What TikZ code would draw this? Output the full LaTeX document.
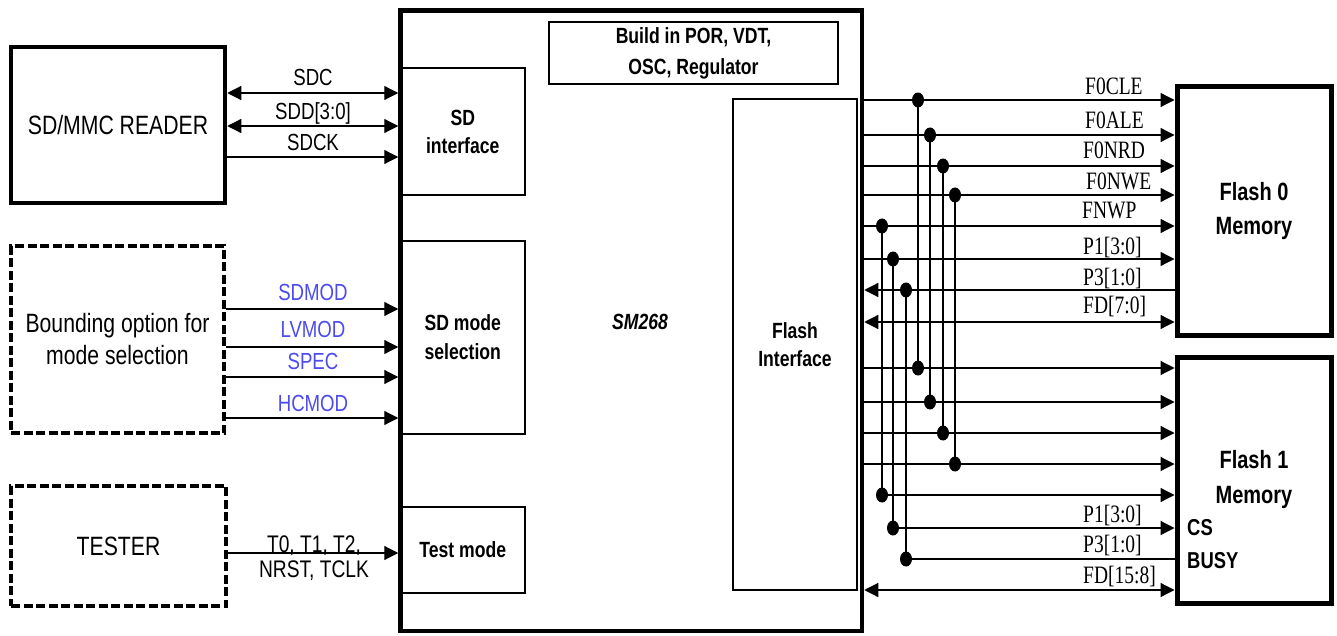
\documentclass[tikz,border=0pt]{standalone}
\usepackage{fontspec}
\setmainfont{Liberation Sans}[FakeStretch=0.8]
\newfontfamily\sigserif{Liberation Serif}[FakeStretch=0.78]
\usetikzlibrary{arrows.meta}
\definecolor{sigblue}{RGB}{75,75,240}
\begin{document}
\begin{tikzpicture}[x=1pt,y=-1pt,
  >={Triangle[length=14pt,width=14pt]},
  thinbox/.style={draw, line width=1.3pt, inner sep=0pt, align=center, font=\fontsize{22}{28}\selectfont\bfseries},
  thickbox/.style={draw, line width=4.5pt, inner sep=0pt, align=center, font=\fontsize{26.5}{32}\selectfont},
  dashbox/.style={draw, line width=4.5pt, dash pattern=on 9pt off 3.5pt, inner sep=0pt, align=center, font=\fontsize{26.5}{32}\selectfont},
  sig/.style={line width=1.2pt},
  lbl/.style={inner sep=0pt, anchor=base, font=\fontsize{23.3}{28}\selectfont},
  blbl/.style={lbl, text=sigblue},
  rlbl/.style={inner sep=0pt, anchor=base west, font=\fontsize{25}{30}\selectfont\sigserif},
  memlbl/.style={inner sep=0pt, anchor=base west, font=\fontsize{23}{28}\selectfont\bfseries},
  jdot/.style={x radius=6pt, y radius=7.5pt}
]
\fill[white] (0,0) rectangle (1337,636);
\useasboundingbox (0,0) rectangle (1337,636);

% ---------- left blocks ----------
\node[thickbox, minimum width=214pt, minimum height=156pt] (reader) at (118,125) {SD/MMC READER};
\node[dashbox, minimum width=213pt, minimum height=187pt, font=\fontsize{26.5}{32}\selectfont] (bound) at (117.5,339.5) {Bounding option for\\mode selection};
\node[dashbox, minimum width=215pt, minimum height=120pt] (tester) at (118.5,546) {TESTER};

% ---------- SM268 ----------
\node[draw, line width=4.5pt, minimum width=461.5pt, minimum height=620.5pt, inner sep=0pt] (sm) at (631.25,320.75) {};
\node[thinbox, minimum width=124.5pt, minimum height=127pt] (sdif) at (462.75,131.5) {SD\\interface};
\node[thinbox, minimum width=124.5pt, minimum height=193pt, font=\fontsize{22}{29}\selectfont\bfseries] (sdmode) at (462.75,337.5) {SD mode\\selection};
\node[thinbox, minimum width=124.5pt, minimum height=86pt] (testmode) at (462.75,550) {Test mode};
\node[thinbox, minimum width=289pt, minimum height=62pt, font=\fontsize{22}{31}\selectfont\bfseries] (build) at (693.5,53) {Build in POR, VDT,\\OSC, Regulator};
\node[thinbox, minimum width=124pt, minimum height=491pt] (flashif) at (795,344.5) {Flash\\Interface};
\node[inner sep=0pt, font=\fontsize{22}{26}\selectfont\bfseries\itshape] (smname) at (640,322) {SM268};

% ---------- flash memories ----------
\node[draw, line width=5pt, minimum width=154pt, minimum height=248pt, inner sep=0pt, align=center, font=\fontsize{25}{34}\selectfont\bfseries] (flash0) at (1254,211) {Flash 0\\Memory};
\node[draw, line width=5pt, minimum width=154pt, minimum height=246pt, inner sep=0pt, align=center, font=\fontsize{25}{35}\selectfont\bfseries] (flash1) at (1254,480) {Flash 1\\Memory};
\node[memlbl] (cs) at (1187,535) {CS};
\node[memlbl] (busy) at (1187,568) {BUSY};

% ---------- left signals ----------
\coordinate (ySDC) at (0,93);
\coordinate (ySDD) at (0,126);
\coordinate (ySDCK) at (0,157);
\coordinate (ySDMOD) at (0,309);
\coordinate (yLVMOD) at (0,347);
\coordinate (ySPEC) at (0,377);
\coordinate (yHCMOD) at (0,418);
\coordinate (yT) at (0,553);

\draw[sig,<->] (reader.east |- ySDC) -- (sm.west |- ySDC);
\draw[sig,<->] (reader.east |- ySDD) -- (sm.west |- ySDD);
\draw[sig,->] (reader.east |- ySDCK) -- (sm.west |- ySDCK);
\foreach \c in {ySDMOD,yLVMOD,ySPEC,yHCMOD}
  \draw[sig,->] (bound.east |- \c) -- (sm.west |- \c);
\draw[sig,->] (tester.east |- yT) -- (sm.west |- yT);

\node[lbl] (lsdc) at (313,85.3) {SDC};
\node[lbl] (lsdd) at (313,119.3) {SDD[3:0]};
\node[lbl] (lsdck) at (313,150.3) {SDCK};
\node[blbl] (lsdmod) at (313,300.5) {SDMOD};
\node[blbl] (llvmod) at (313,337.5) {LVMOD};
\node[blbl] (lspec) at (313,369.5) {SPEC};
\node[blbl] (lhcmod) at (313,411.5) {HCMOD};
\node[lbl, font=\fontsize{24}{28}\selectfont] (lt0) at (314,552.6) {T0, T1, T2,};
\node[lbl, font=\fontsize{24}{28}\selectfont] (lnrst) at (314,577.6) {NRST, TCLK};

% ---------- right signals ----------
\coordinate (a1) at (918,100); \coordinate (a2) at (918,368);
\coordinate (b1) at (930,135); \coordinate (b2) at (930,402);
\coordinate (c1) at (943,166); \coordinate (c2) at (943,433);
\coordinate (d1) at (955,195); \coordinate (d2) at (955,464);
\coordinate (e1) at (882,226); \coordinate (e2) at (882,495);
\coordinate (f1) at (893,259); \coordinate (f2) at (893,528);
\coordinate (g1) at (906,290); \coordinate (g2) at (906,559);
\coordinate (h1) at (0,322);   \coordinate (h2) at (0,590);

\foreach \j in {a,b,c,d} {
  \draw[sig,->] (sm.east |- \j1) -- (flash0.west |- \j1);
  \draw[sig,->] (sm.east |- \j2) -- (flash1.west |- \j2);
}
\foreach \j in {e,f} {
  \draw[sig,->] (sm.east |- \j1) -- (flash0.west |- \j1);
  \draw[sig,->] (\j2) -- (flash1.west |- \j2);
}
\draw[sig,<-] (sm.east |- g1) -- (flash0.west |- g1);
\draw[sig] (g2) -- (flash1.west |- g2);
\draw[sig,<->] (sm.east |- h1) -- (flash0.west |- h1);
\draw[sig,<->] (sm.east |- h2) -- (flash1.west |- h2);
\foreach \j in {a,b,c,d,e,f,g} {
  \draw[sig] (\j1) -- (\j2);
  \fill (\j1) ellipse [jdot];
  \fill (\j2) ellipse [jdot];
}

\node[rlbl] (lf0cle) at (1085,94.3) {F0CLE};
\node[rlbl] (lf0ale) at (1085,128.3) {F0ALE};
\node[rlbl] (lf0nrd) at (1083,158.3) {F0NRD};
\node[rlbl] (lf0nwe) at (1086,189.3) {F0NWE};
\node[rlbl] (lfnwp) at (1082,218.3) {FNWP};
\node[rlbl] (lp1a) at (1083,254.3) {P1[3:0]};
\node[rlbl] (lp3a) at (1083,285.3) {P3[1:0]};
\node[rlbl] (lfda) at (1083,313.3) {FD[7:0]};
\node[rlbl] (lp1b) at (1083,522.3) {P1[3:0]};
\node[rlbl] (lp3b) at (1083,552.3) {P3[1:0]};
\node[rlbl] (lfdb) at (1083,583.3) {FD[15:8]};
\end{tikzpicture}
\end{document}
